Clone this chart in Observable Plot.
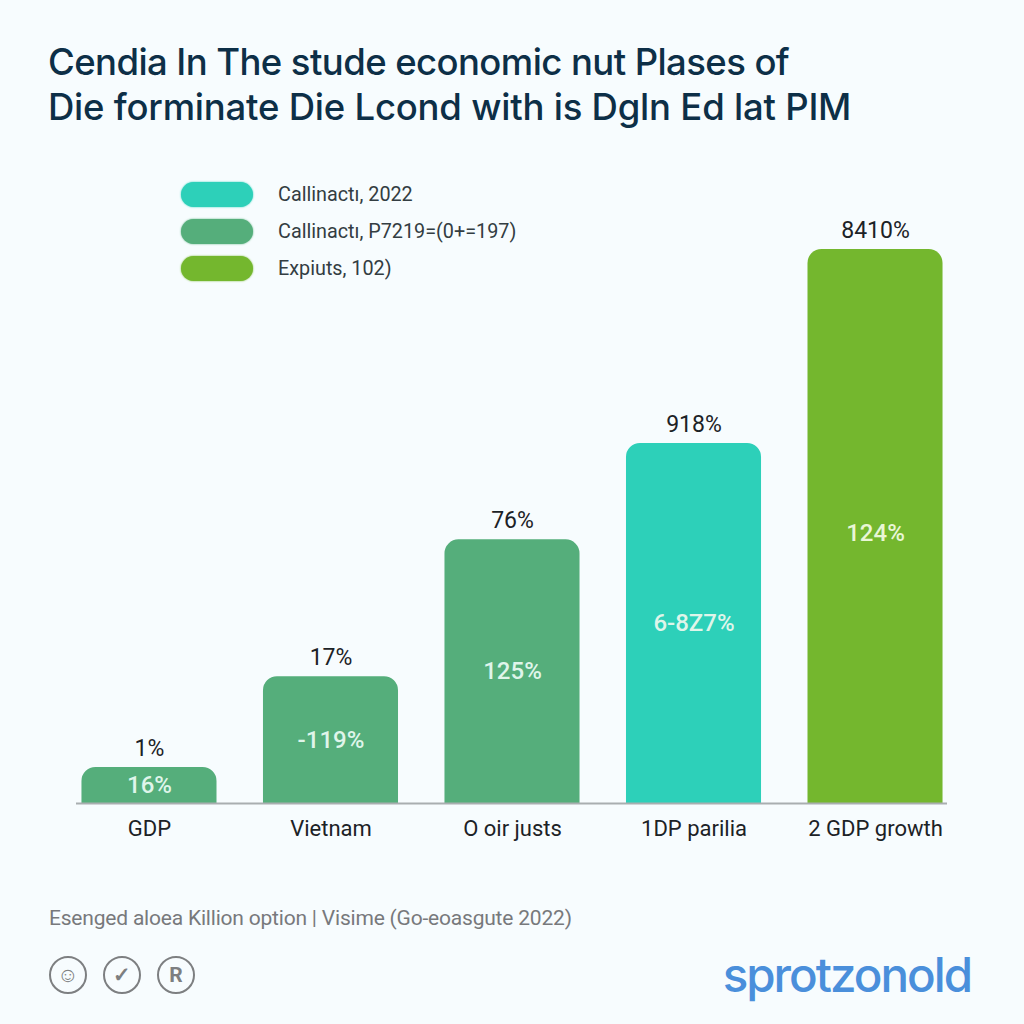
<!DOCTYPE html>
<html>
<head>
<meta charset="utf-8">
<script src="https://cdn.jsdelivr.net/npm/d3@7"></script>
<script src="https://cdn.jsdelivr.net/npm/@observablehq/plot@0.6"></script>
<style>
  html, body { margin: 0; padding: 0; background: #f7fcfe; }
  #page { position: relative; width: 1024px; height: 1024px; overflow: hidden; font-family: Inter, sans-serif; }
  #title { position: absolute; left: 48px; top: 40px; margin: 0; font-size: 36.5px; line-height: 45px; font-weight: 500; color: #0d2f47; white-space: nowrap; }
  #title .l1 { letter-spacing: -0.58px; }
  #title .l2 { letter-spacing: -0.22px; }
  #chart { position: absolute; left: 0; top: 170px; }
  #legend { position: absolute; left: 181px; top: 182px; }
  .row { position: absolute; left: 0; display: flex; align-items: center; height: 25px; white-space: nowrap; font-family: Roboto, sans-serif; font-size: 19.8px; color: #333d42; }
  .pill { display: block; width: 72px; height: 25px; border-radius: 12.5px; margin-right: 25px; }
  #caption { position: absolute; left: 49px; top: 906px; font-family: Roboto, sans-serif; font-size: 21px; color: #77797c; white-space: nowrap; letter-spacing: -0.2px; }
  #badges { position: absolute; left: 49px; top: 956px; display: flex; gap: 16px; }
  .badge { box-sizing: border-box; width: 38px; height: 38px; border: 2.5px solid #7d7f81; border-radius: 50%; display: flex; align-items: center; justify-content: center; font: 700 21px Roboto, sans-serif; color: #7d7f81; }
  #brand { position: absolute; right: 53px; top: 946px; font-family: Inter, sans-serif; font-weight: 500; font-size: 47.5px; letter-spacing: -2px; color: #4a8fdb; white-space: nowrap; }
</style>
</head>
<body>
<div id="page">
  <h1 id="title"><span class="l1">Cendia In The stude economic nut Plases of</span><br><span class="l2">Die forminate Die Lcond with is Dgln Ed lat PIM</span></h1>
  <div id="chart"></div>
  <div id="legend"></div>
  <div id="caption">Esenged aloea Killion option | Visime (Go-eoasgute 2022)</div>
  <div id="badges"><span class="badge">☺</span><span class="badge">✓</span><span class="badge">R</span></div>
  <div id="brand">sprotzonold</div>
</div>
<script>
const categories = ["GDP", "Vietnam", "O oir justs", "1DP parilia", "2 GDP growth"];
const values = [6.5, 22.9, 47.6, 65, 100];
const topLabels = ["1%", "17%", "76%", "918%", "8410%"];
const innerLabels = ["16%", "-119%", "125%", "6-8Z7%", "124%"];
const series = ["Callinacti 2019", "Callinacti 2019", "Callinacti 2019", "Callinacti 2022", "Expiuts"];
const seriesKeys = ["Callinacti 2022", "Callinacti 2019", "Expiuts"];
const seriesColors = ["#2dd0b9", "#55ae7b", "#74b72e"];
const legendLabels = ["Callinactı, 2022", "Callinactı, P7219=(0+=197)", "Expiuts, 102)"];

const rows = categories.map((c, i) => ({
  c, v: values[i], top: topLabels[i], inner: innerLabels[i], s: series[i], last: i === categories.length - 1
}));

const plot = Plot.plot({
  width: 1024,
  height: 680,
  marginTop: 79,
  marginBottom: 47,
  marginLeft: 35,
  marginRight: 35,
  style: { background: "transparent", fontFamily: "Roboto, sans-serif" },
  x: { domain: categories, padding: 0.256, round: false, label: null },
  y: { domain: [0, 100], axis: null },
  color: { domain: seriesKeys, range: seriesColors },
  marks: [
    Plot.axisX({ fontSize: 22, tickSize: 0, tickPadding: 17, fill: "#1c2226", label: null }),
    Plot.barY(rows, { x: "c", y: "v", fill: "s", ry1: 14, rx1y1: 14, rx2y1: 14 }),
    Plot.ruleY([0], { stroke: "#a9aeb0", strokeWidth: 2, insetLeft: 41, insetRight: 42 }),
    Plot.text(rows, { x: "c", y: "v", text: "top", dy: -19, fontSize: 23, fill: "#1c2226" }),
    Plot.text(rows.filter(d => !d.last), { x: "c", y: d => d.v / 2, text: "inner", fontSize: 24, fontWeight: 500, fill: "#dff5ea" }),
    Plot.text(rows.filter(d => d.last), { x: "c", y: d => d.v / 2, text: "inner", dy: 7, fontSize: 24, fontWeight: 500, fill: "#e9f6d6" })
  ]
});
document.getElementById("chart").appendChild(plot);

const legend = document.getElementById("legend");
const rowTops = [0, 37, 74];
legendLabels.forEach((t, i) => {
  const row = document.createElement("div");
  row.className = "row";
  row.style.top = rowTops[i] + "px";
  const pill = document.createElement("span");
  pill.className = "pill";
  pill.style.background = seriesColors[i];
  pill.style.boxShadow = "0 0 2px " + seriesColors[i];
  row.appendChild(pill);
  row.appendChild(document.createTextNode(t));
  legend.appendChild(row);
});
</script>
</body>
</html>
